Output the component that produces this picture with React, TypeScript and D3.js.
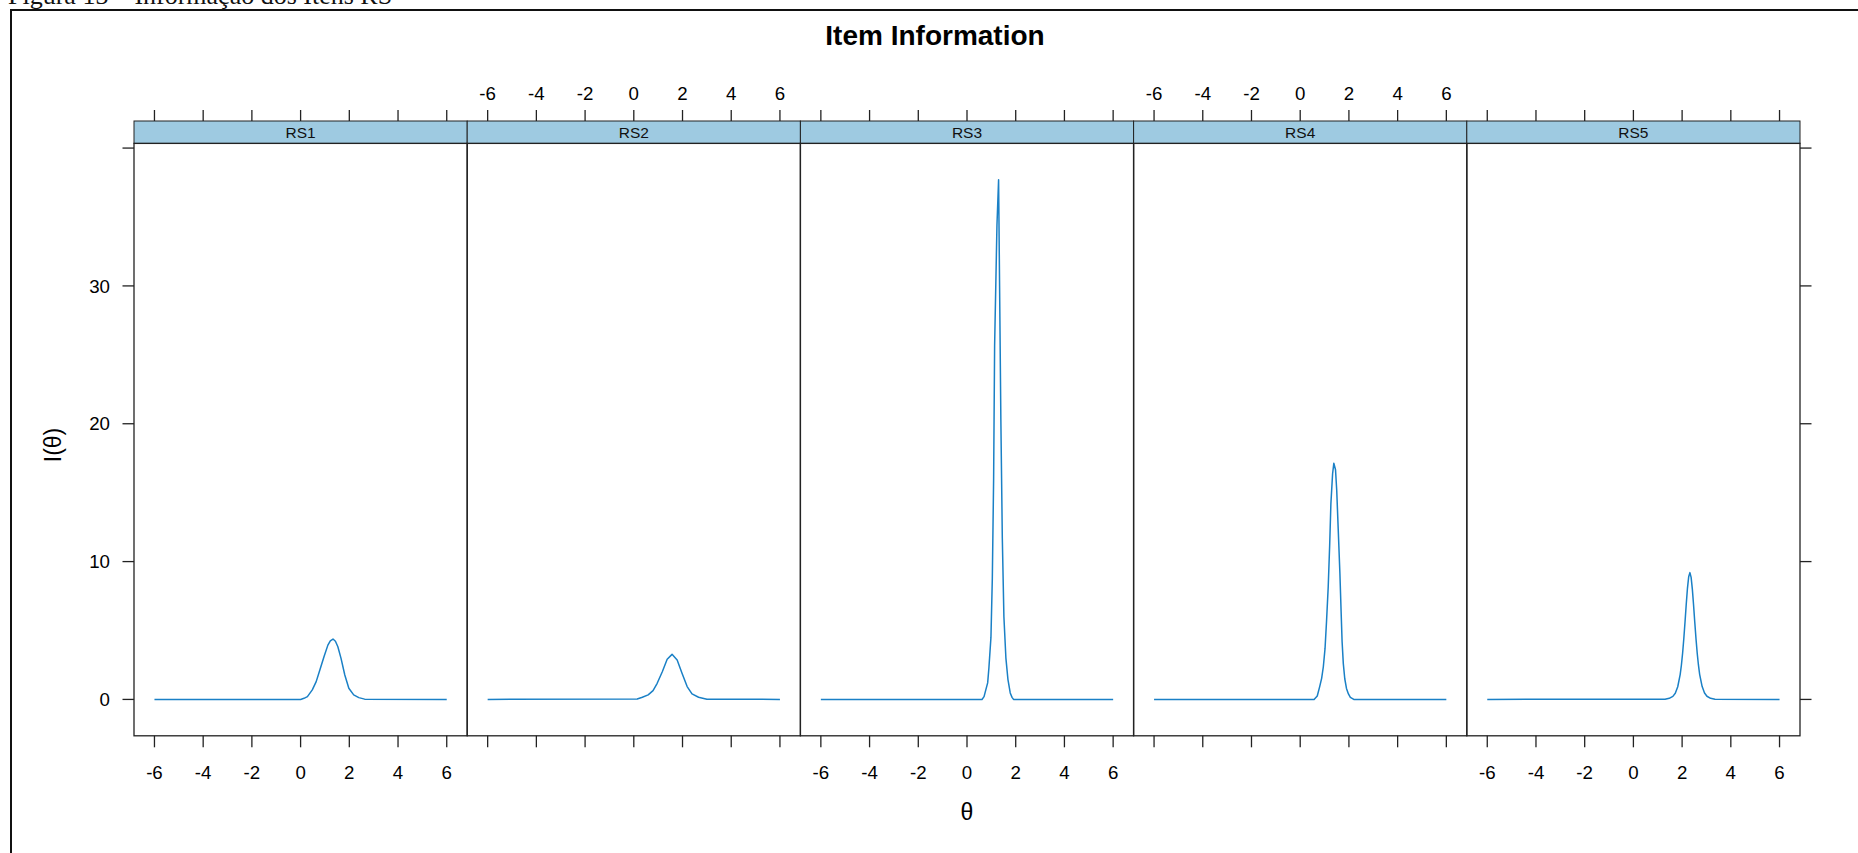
import React from "react";
import * as d3 from "d3";

// Item information curves, one panel per item: [theta, information]
const items = ["RS1", "RS2", "RS3", "RS4", "RS5"];

const rs1: [number, number][] = [
  [-6, 0], [0.0, 0], [0.14, 0.08], [0.28, 0.2], [0.48, 0.69], [0.64, 1.29],
  [0.79, 2.13], [0.96, 3.1], [1.12, 3.94], [1.22, 4.25], [1.33, 4.38],
  [1.43, 4.22], [1.53, 3.82], [1.66, 2.98], [1.815, 1.77], [1.98, 0.81],
  [2.18, 0.33], [2.39, 0.13], [2.63, 0.02], [6, 0],
];

const rs2: [number, number][] = [
  [-6, 0], [0.14, 0.03], [0.35, 0.16], [0.59, 0.33], [0.79, 0.64], [0.96, 1.17],
  [1.17, 2.01], [1.37, 2.91], [1.57, 3.27], [1.78, 2.86], [1.98, 1.9],
  [2.19, 0.93], [2.39, 0.4], [2.66, 0.16], [3.0, 0.02], [6, 0],
];

const rs3: [number, number][] = [
  [-6, 0], [0.615, 0], [0.7, 0.2], [0.753, 0.57], [0.848, 1.2], [0.9, 2.3],
  [0.983, 4.5], [1.04, 8.8], [1.093, 16.0], [1.134, 25.7], [1.23, 34.4],
  [1.297, 37.7], [1.338, 30.0], [1.39, 20.3], [1.45, 11.7], [1.515, 6.0],
  [1.597, 3.0], [1.68, 1.46], [1.775, 0.47], [1.85, 0.15], [1.91, 0], [6, 0],
];

const rs4: [number, number][] = [
  [-6, 0], [0.57, 0], [0.7, 0.25], [0.8, 0.93], [0.88, 1.53], [0.95, 2.37],
  [1.02, 3.7], [1.08, 5.63], [1.15, 8.16], [1.21, 11.18], [1.26, 14.2],
  [1.33, 16.37], [1.38, 17.13], [1.45, 16.66], [1.5, 15.16], [1.56, 12.39],
  [1.63, 9.13], [1.68, 6.35], [1.72, 4.2], [1.77, 2.6], [1.83, 1.5],
  [1.9, 0.8], [1.98, 0.4], [2.06, 0.15], [2.2, 0], [6, 0],
];

const rs5: [number, number][] = [
  [-6, 0], [1.3, 0.02], [1.47, 0.08], [1.62, 0.22], [1.72, 0.45], [1.82, 0.92],
  [1.92, 1.8], [1.97, 2.48], [2.02, 3.35], [2.07, 4.42], [2.12, 5.64],
  [2.17, 6.92], [2.22, 8.08], [2.27, 8.9], [2.32, 9.2], [2.37, 8.85],
  [2.42, 8.0], [2.47, 6.85], [2.52, 5.6], [2.57, 4.4], [2.62, 3.35],
  [2.67, 2.5], [2.72, 1.82], [2.82, 0.95], [2.92, 0.47], [3.02, 0.23],
  [3.17, 0.08], [3.35, 0.02], [6, 0],
];

const series = [rs1, rs2, rs3, rs4, rs5];

const thetaTicks = [-6, -4, -2, 0, 2, 4, 6];
const infoTicks = [0, 10, 20, 30, 40];
const infoLabelled = [0, 10, 20, 30];

const W = 1858;
const H = 853;
const LEFT = 134;
const RIGHT = 1800;
const STRIP_TOP = 121;
const PANEL_TOP = 143.4;
const PANEL_BOTTOM = 735.8;
const PANEL_W = (RIGHT - LEFT) / items.length;
const PAD = 0.07;

const SANS = "'Liberation Sans', Arial, sans-serif";
const LINE_COLOR = "#1a80c6";
const STRIP_FILL = "#9ecae1";
const AXIS = "#222";

export default function App() {
  const [tMin, tMax] = d3.extent(thetaTicks) as [number, number];
  const tPad = (tMax - tMin) * PAD;
  const allInfo = series.flat().map((d) => d[1]);
  const iMin = d3.min(allInfo) as number;
  const iMax = d3.max(allInfo) as number;
  const iPad = (iMax - iMin) * PAD;

  const y = d3
    .scaleLinear()
    .domain([iMin - iPad, iMax + iPad])
    .range([PANEL_BOTTOM, PANEL_TOP]);

  const panels = items.map((name, i) => {
    const x0 = LEFT + i * PANEL_W;
    const x = d3
      .scaleLinear()
      .domain([tMin - tPad, tMax + tPad])
      .range([x0, x0 + PANEL_W]);
    const line = d3
      .line<[number, number]>()
      .x((d) => x(d[0]))
      .y((d) => y(d[1]));
    return { name, i, x0, x, path: line(series[i]) || "" };
  });

  return (
    <div style={{ position: "absolute", left: 0, top: 0 }}>
      <svg width={W} height={H} style={{ display: "block", background: "#fff" }}>
        {/* document caption above the figure */}
        <text x={8} y={4} fontFamily="'Liberation Serif', 'Times New Roman', serif" fontSize={26} fill="#111">
          Figura 13 – Informação dos Itens RS
        </text>
        {/* figure frame */}
        <rect x={11} y={10} width={W + 20} height={H + 20} fill="none" stroke="#111" strokeWidth={2} />

        <text x={935} y={45} textAnchor="middle" fontFamily={SANS} fontWeight="bold" fontSize={28} fill="#000">
          Item Information
        </text>

        {panels.map((p) => (
          <g key={p.name}>
            {/* strip */}
            <rect x={p.x0} y={STRIP_TOP} width={PANEL_W} height={PANEL_TOP - STRIP_TOP} fill={STRIP_FILL} stroke={AXIS} strokeWidth={1} />
            <text x={p.x0 + PANEL_W / 2} y={(STRIP_TOP + PANEL_TOP) / 2 + 5.5} textAnchor="middle" fontFamily={SANS} fontSize={15.5} fill="#111">
              {p.name}
            </text>
            {/* panel box */}
            <rect x={p.x0} y={PANEL_TOP} width={PANEL_W} height={PANEL_BOTTOM - PANEL_TOP} fill="none" stroke={AXIS} strokeWidth={1.3} />
            <path d={p.path} fill="none" stroke={LINE_COLOR} strokeWidth={1.5} strokeLinejoin="round" />
            {/* top ticks */}
            {thetaTicks.map((t) => (
              <line key={"tt" + t} x1={p.x(t)} x2={p.x(t)} y1={STRIP_TOP} y2={STRIP_TOP - 11} stroke={AXIS} strokeWidth={1.3} />
            ))}
            {/* bottom ticks */}
            {thetaTicks.map((t) => (
              <line key={"bt" + t} x1={p.x(t)} x2={p.x(t)} y1={PANEL_BOTTOM} y2={PANEL_BOTTOM + 11.5} stroke={AXIS} strokeWidth={1.3} />
            ))}
            {/* alternating tick labels: bottom on odd panels, top on even */}
            {thetaTicks.map((t) =>
              p.i % 2 === 0 ? (
                <text key={"bl" + t} x={p.x(t)} y={778.5} textAnchor="middle" fontFamily={SANS} fontSize={18.7} fill="#000">
                  {t}
                </text>
              ) : (
                <text key={"tl" + t} x={p.x(t)} y={100} textAnchor="middle" fontFamily={SANS} fontSize={18.7} fill="#000">
                  {t}
                </text>
              )
            )}
          </g>
        ))}

        {/* left axis on the first panel */}
        {infoTicks.map((v) => (
          <line key={"ly" + v} x1={LEFT} x2={LEFT - 11.5} y1={y(v)} y2={y(v)} stroke={AXIS} strokeWidth={1.3} />
        ))}
        {infoLabelled.map((v) => (
          <text key={"lyl" + v} x={110} y={y(v) + 6.7} textAnchor="end" fontFamily={SANS} fontSize={18.7} fill="#000">
            {v}
          </text>
        ))}
        {/* right axis ticks on the last panel */}
        {infoTicks.map((v) => (
          <line key={"ry" + v} x1={RIGHT} x2={RIGHT + 11.5} y1={y(v)} y2={y(v)} stroke={AXIS} strokeWidth={1.3} />
        ))}

        <text x={(LEFT + RIGHT) / 2} y={820} textAnchor="middle" fontFamily={SANS} fontSize={23} fill="#000">
          θ
        </text>
        <text
          transform={`translate(61, 445) rotate(-90)`}
          textAnchor="middle"
          fontFamily={SANS}
          fontSize={23}
          fill="#000"
        >
          I(θ)
        </text>
      </svg>
    </div>
  );
}
